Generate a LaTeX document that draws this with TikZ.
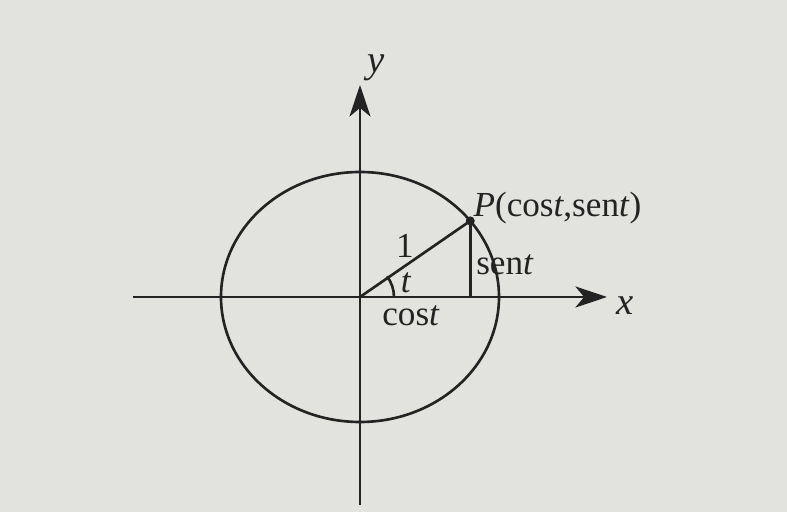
\documentclass[tikz,border=0pt]{standalone}
\usepackage{fontspec}
\setmainfont{Liberation Serif}
\usetikzlibrary{positioning, arrows.meta, calc}
\definecolor{papergray}{RGB}{226,226,223}
\definecolor{inkdark}{RGB}{35,35,35}

\begin{document}
\begin{tikzpicture}[x=0.01cm, y=0.01cm, line width=0.75pt, draw=inkdark,
    axisarrow/.style={-{Stealth[length=9pt, width=6pt, inset=2.5pt]}},
    lbl/.style={font=\fontsize{10}{11}\selectfont, text=inkdark, inner sep=0pt}]
        % fondo
        \fill[papergray] (0,0) rectangle (787,512);
        \useasboundingbox (0,0) rectangle (787,512);
        % ejes
        \coordinate (O) at (360,215);
        \coordinate (xL) at (133,215);
        \coordinate (xR) at (607,215);
        \coordinate (yB) at (360,7);
        \coordinate (yT) at (360,427);
        \draw[axisarrow, inkdark] (xL) -- (xR);
        \draw[axisarrow, inkdark] (yB) -- (yT);
        \node[lbl, font=\fontsize{11}{12}\selectfont\itshape] (xlab) at (625,206) {x};
        \node[lbl, font=\fontsize{11}{12}\selectfont\itshape] (ylab) at (376,444) {y};
        % circulo
        \draw[inkdark] (O) ellipse (139 and 125);
        % punto P
        \coordinate (P) at ($(O)+(37.5:139 and 125)$);
        \coordinate (F) at (P |- O);
        \draw[inkdark] (O) -- (P);
        \draw[inkdark] (P) -- (F);
        \fill[inkdark] (P) circle (4.5);
        % angulo
        \draw[inkdark] ($(O)+(34,0)$) arc (0:37.5:34);
        % rotulos
        \node[lbl, anchor=base west] (Plab) at ($(P)+(2,4)$) {\textit{P}(cos\textit{t},sen\textit{t})};
        \node[lbl] (uno) at (405,266) {1};
        \node[lbl] (ang) at (406,229) {\textit{t}};
        \node[lbl] (cos) at (411,196) {cos\textit{t}};
        \node[lbl, anchor=west] (sen) at (475,247) {sen\textit{t}};
      \end{tikzpicture}
\end{document}
